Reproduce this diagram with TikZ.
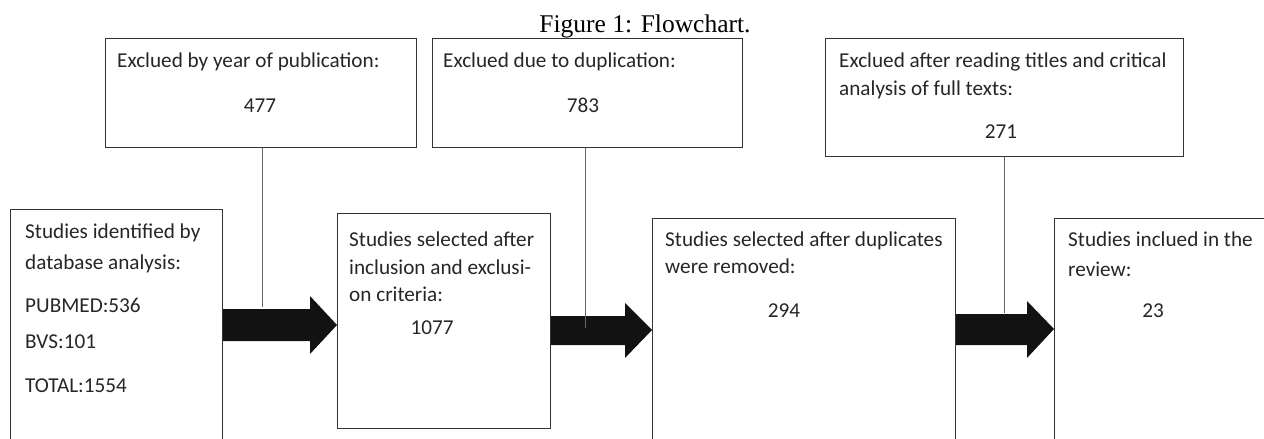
\documentclass[tikz,border=0pt]{standalone}
\usepackage{fontspec}
\newfontfamily\carlito{Carlito}
\newfontfamily\tnr{Liberation Serif}
\begin{document}
\begin{tikzpicture}[x=1pt,y=-1pt,
  box/.style={draw=black!80, line width=1.2pt, inner sep=0pt, anchor=north west},
  txt/.style={font=\carlito\fontsize{21.2}{28}\selectfont, text=black!85, inner sep=0pt, anchor=base west},
  num/.style={font=\carlito\fontsize{21.2}{28}\selectfont, text=black!85, inner sep=0pt, anchor=base},
  conn/.style={draw=black!60, line width=1pt},
  fat/.style={fill=black!93}]
\path[use as bounding box, clip] (0,0) rectangle (1264,439);
% caption
\node[font=\tnr\fontsize{25.5}{28}\selectfont, inner sep=0pt, anchor=base] (cap) at (645,32) {Figure 1: Flowchart.};
% top boxes
\node[box, minimum width=311pt, minimum height=109pt] (a) at (105,38) {};
\node[box, minimum width=310pt, minimum height=109pt] (d) at (432,38) {};
\node[box, minimum width=358pt, minimum height=118pt] (f) at (825,38) {};
% bottom boxes
\node[box, minimum width=212pt, minimum height=260pt] (b) at (10,209) {};
\node[box, minimum width=213pt, minimum height=215pt] (c) at (337,213) {};
\node[box, minimum width=303pt, minimum height=260pt] (e) at (652,218) {};
\node[box, minimum width=240pt, minimum height=260pt] (g) at (1054,218) {};
% texts
\node[txt] (ta1) at (117,67) {Exclued by year of publication:};
\node[num] (ta2) at (260,112) {477};
\node[txt] (td1) at (443,67) {Exclued due to duplication:};
\node[num] (td2) at (583,112) {783};
\node[txt] (tf1) at (839,67) {Exclued after reading titles and critical};
\node[txt] (tf2) at (839,95) {analysis of full texts:};
\node[num] (tf3) at (1001,138) {271};
\node[txt] (tb1) at (25,238) {Studies identified by};
\node[txt] (tb2) at (25,269) {database analysis:};
\node[txt] (tb3) at (25,312) {PUBMED:536};
\node[txt] (tb4) at (25,348) {BVS:101};
\node[txt] (tb5) at (25,392) {TOTAL:1554};
\node[txt] (tc1) at (349,246) {Studies selected after};
\node[txt] (tc2) at (349,274) {inclusion and exclusi-};
\node[txt] (tc3) at (349,301) {on criteria:};
\node[num] (tc4) at (432,334) {1077};
\node[txt] (te1) at (665,246) {Studies selected after duplicates};
\node[txt] (te2) at (665,273) {were removed:};
\node[num] (te3) at (784,317) {294};
\node[txt] (tg1) at (1068,246) {Studies inclued in the};
\node[txt] (tg2) at (1068,276) {review:};
\node[num] (tg3) at (1153,317) {23};
% fat arrows
\fill[fat] (b.east |- 0,309) -- (310,309) -- (310,296) -- (c.west |- 0,325) -- (310,354) -- (310,341) -- (b.east |- 0,341) -- cycle;
\fill[fat] (c.east |- 0,316) -- (625,316) -- (625,303) -- (e.west |- 0,330) -- (625,358) -- (625,345) -- (c.east |- 0,345) -- cycle;
\fill[fat] (e.east |- 0,314) -- (1027,314) -- (1027,301) -- (g.west |- 0,329) -- (1027,358) -- (1027,345) -- (e.east |- 0,345) -- cycle;
% connectors
\coordinate (j1) at (262,307);
\coordinate (j2) at (585,328);
\coordinate (j3) at (1004,313);
\draw[conn] (a.south -| j1) -- (j1);
\draw[conn] (d.south -| j2) -- (j2);
\draw[conn] (f.south -| j3) -- (j3);
\end{tikzpicture}
\end{document}
